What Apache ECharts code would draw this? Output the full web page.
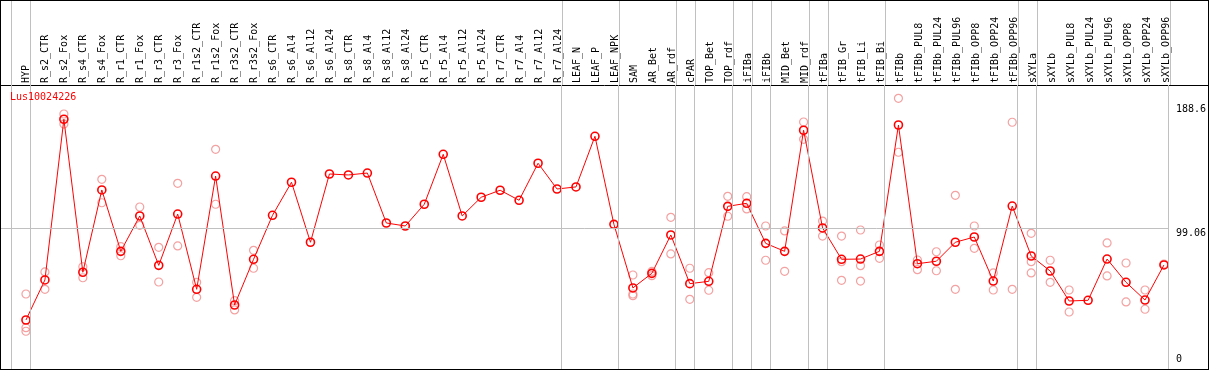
<!DOCTYPE html>
<html><head><meta charset="utf-8">
<script src="https://cdn.jsdelivr.net/npm/echarts@6/dist/echarts.min.js"></script>
<style>
html,body{margin:0;padding:0;background:#fff;}
#chart{position:absolute;left:0;top:0;width:1209px;height:370px;}
#frame{position:absolute;left:0;top:0;width:1209px;height:370px;box-sizing:border-box;border:1px solid #000;pointer-events:none;z-index:5;}
</style></head><body>
<div id="chart"></div><div id="frame"></div>
<script>
const geneName = 'Lus10024226';
const categories = ['HYP','R_s2_CTR','R_s2_Fox','R_s4_CTR','R_s4_Fox','R_r1_CTR','R_r1_Fox','R_r3_CTR','R_r3_Fox',
 'R_r1s2_CTR','R_r1s2_Fox','R_r3s2_CTR','R_r3s2_Fox','R_s6_CTR','R_s6_Al4','R_s6_Al12','R_s6_Al24',
 'R_s8_CTR','R_s8_Al4','R_s8_Al12','R_s8_Al24','R_r5_CTR','R_r5_Al4','R_r5_Al12','R_r5_Al24',
 'R_r7_CTR','R_r7_Al4','R_r7_Al12','R_r7_Al24','LEAF_N','LEAF_P','LEAF_NPK','SAM','AR_Bet','AR_rdf',
 'cPAR','TOP_Bet','TOP_rdf','iFIBa','iFIBb','MID_Bet','MID_rdf','tFIBa','tFIB_Gr','tFIB_Li','tFIB_Bi',
 'tFIBb','tFIBb_PUL8','tFIBb_PUL24','tFIBb_PUL96','tFIBb_OPP8','tFIBb_OPP24','tFIBb_OPP96',
 'sXYLa','sXYLb','sXYLb_PUL8','sXYLb_PUL24','sXYLb_PUL96','sXYLb_OPP8','sXYLb_OPP24','sXYLb_OPP96'];
const means = [32.2,61.3,178.1,66.9,126.7,82.1,107.8,71.9,109.2,54.5,
 136.8,43.1,76.3,108.3,132.3,88.7,138.3,137.6,139.0,102.7,
 100.5,116.3,152.6,107.8,121.4,126.5,119.2,146.1,127.4,128.9,
 165.7,101.7,55.5,66.1,94.0,58.6,60.3,114.8,117.0,87.9,
 82.1,170.1,99.1,76.3,76.5,82.1,173.9,73.1,74.9,88.7,
 92.5,60.5,115.0,78.7,67.8,46.0,46.5,76.5,59.6,46.7,72.2];
const rep1 = [51.1,67.1,181.9,70.9,134.4,85.5,114.3,85.0,131.5,59.6,
 156.2,46.2,82.8,null,null,null,null,null,null,null,
 null,null,null,null,null,null,null,null,null,null,
 null,null,64.9,67.5,106.8,69.8,66.6,122.1,121.8,100.5,
 96.9,176.1,104.1,93.2,97.6,86.7,193.3,75.8,81.8,122.8,
 100.5,66.4,175.9,95.2,75.6,54.0,null,88.2,73.6,54.0,72.9];
const rep2 = [26.6,54.5,174.6,62.9,117.4,78.9,101.0,59.8,86.0,48.7,
 116.3,39.5,69.8,null,null,null,null,null,null,null,
 null,null,null,null,null,null,null,null,null,null,
 null,null,51.1,64.4,80.2,47.2,53.8,107.6,112.9,75.6,
 67.6,163.5,93.2,61.0,60.5,77.0,154.1,68.8,68.0,54.5,
 84.3,54.0,54.5,66.4,59.6,38.0,null,64.2,45.3,40.0,null];
const rep3 = [24.0,null,null,null,null,null,null,null,null,null,
 null,null,null,null,null,null,null,null,null,null,
 null,null,null,null,null,null,null,null,null,null,
 null,null,49.9,null,null,null,null,null,null,null,
 null,null,null,74.6,71.7,null,null,null,null,null,
 null,null,null,74.6,null,null,null,null,null,null,null];
const groupEndsAfter = [-1,0,28,31,34,35,37,38,39,41,42,45,52,53,60];
const yTickLabels = [0, 99.06, 188.6];
const refLineValue = 99.06;

const FONT = 'DejaVu Sans Mono';
const SLOT = 19, FIRST = 26, W = 1209;
const xMin = -FIRST / SLOT, xMax = (W - FIRST) / SLOT;
const sepOffset = 0.237;
const idx = categories.map((c, i) => i);
const meanPts = means.map((v, i) => [i, v]);
const repPts = [];
[rep1, rep2, rep3].forEach(a => a.forEach((v, i) => { if (v != null) repPts.push([i, v]); }));
const sepData = groupEndsAfter.map(i => ({ xAxis: i + sepOffset }));
const sepLine = { color: '#c0c0c0', width: 1, type: 'solid' };

const chart = echarts.init(document.getElementById('chart'), null, { renderer: 'canvas' });
chart.setOption({
  animation: false,
  title: { text: geneName, left: 10, top: 92, padding: 0,
    textStyle: { color: '#ff0000', fontFamily: FONT, fontSize: 10, fontWeight: 'normal' } },
  grid: [
    { left: 0, right: 0, top: 0, height: 85 },
    { left: 0, right: 0, top: 85, bottom: 1 }
  ],
  xAxis: [
    { type: 'value', gridIndex: 0, min: xMin, max: xMax, position: 'bottom',
      axisLine: { show: true, lineStyle: { color: '#000', width: 1 } },
      axisTick: { show: false }, splitLine: { show: false },
      axisLabel: { show: true, inside: true, rotate: 90, margin: 2, customValues: idx,
        formatter: v => categories[Math.round(v)] || '',
        fontFamily: FONT, fontSize: 10, color: '#000' } },
    { type: 'value', gridIndex: 1, min: xMin, max: xMax, show: false }
  ],
  yAxis: [
    { type: 'value', gridIndex: 0, min: 0, max: 1, show: false },
    { type: 'value', gridIndex: 1, min: -3.42, max: 202.98, position: 'right',
      axisLine: { show: false }, axisTick: { show: false }, splitLine: { show: false },
      axisLabel: { inside: true, align: 'left', margin: 31, verticalAlign: 'top',
        customValues: yTickLabels.filter(v => v !== 0), formatter: v => String(v),
        fontFamily: FONT, fontSize: 10, color: '#000' } },
    { type: 'value', gridIndex: 1, min: -3.42, max: 202.98, position: 'right',
      axisLine: { show: false }, axisTick: { show: false }, splitLine: { show: false },
      axisLabel: { inside: true, align: 'left', margin: 31, verticalAlign: 'bottom',
        customValues: yTickLabels.filter(v => v === 0), formatter: v => String(v),
        fontFamily: FONT, fontSize: 10, color: '#000' } }
  ],
  series: [
    { type: 'line', xAxisIndex: 0, yAxisIndex: 0, data: [], silent: true,
      markLine: { silent: true, symbol: 'none', label: { show: false }, lineStyle: sepLine, data: sepData } },
    { type: 'scatter', xAxisIndex: 1, yAxisIndex: 1, data: repPts, symbol: 'circle', symbolSize: 8,
      itemStyle: { color: 'rgba(255,255,255,0)', borderColor: '#f08a8a', borderWidth: 1.2 }, z: 3,
      markLine: { silent: true, symbol: 'none', label: { show: false }, lineStyle: sepLine,
        data: sepData.concat([[{ xAxis: xMin, yAxis: refLineValue }, { xAxis: groupEndsAfter[groupEndsAfter.length-1] + sepOffset, yAxis: refLineValue }]]) } },
    { type: 'line', xAxisIndex: 1, yAxisIndex: 1, data: meanPts, symbol: 'circle', symbolSize: 8,
      showAllSymbol: true,
      lineStyle: { color: '#ff0000', width: 1 },
      itemStyle: { color: 'rgba(255,255,255,0)', borderColor: '#ff0000', borderWidth: 1.6 }, z: 4 }
  ]
});
</script>
</body></html>
